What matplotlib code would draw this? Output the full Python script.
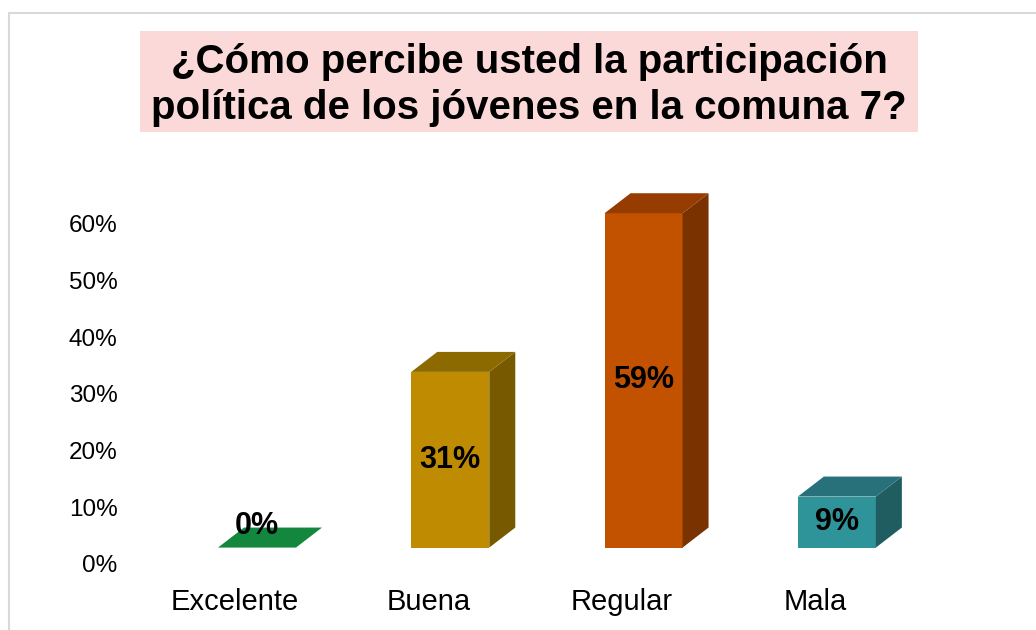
import numpy as np
import matplotlib
matplotlib.use("Agg")
import matplotlib.pyplot as plt
from matplotlib.patches import Polygon, Rectangle

categories = ["Excelente", "Buena", "Regular", "Mala"]
values = [0, 31, 59, 9]
front_colors = ["#12873D", "#BF8B00", "#C25200", "#2E9499"]
top_colors = ["#12873D", "#8C6A00", "#963C00", "#28717A"]
side_colors = ["#0C6A2F", "#775A00", "#7A3300", "#1F5D61"]
yticks = [0, 10, 20, 30, 40, 50, 60]
title = "¿Cómo percibe usted la participación\npolítica de los jóvenes en la comuna 7?"

plt.rcParams["font.family"] = ["Liberation Sans", "DejaVu Sans"]

W, H = 1036, 630
fig = plt.figure(figsize=(W / 100, H / 100), dpi=100)

# outer frame and title box (pixel coords)
fig.patches.append(Rectangle((9 / W, -0.05), 1.1, (H - 13) / H + 0.05, transform=fig.transFigure,
                             fill=False, edgecolor="#D9D9D9", lw=1.5))
fig.patches.append(Rectangle((140 / W, 1 - 132 / H), 778 / W, 101 / H, transform=fig.transFigure,
                             facecolor="#FBD9D8", edgecolor="none"))
fig.text(529 / W, 1 - 85 / H, title, ha="center", va="center", fontsize=29,
         fontweight="bold", linespacing=1.27)

ax = fig.add_axes([130 / W, 66 / H, 870 / W, (440 - 66) / H])
ax.set_xlim(-0.657, 3.844)
ax.set_ylim(0, 66)
for s in ax.spines.values():
    s.set_visible(False)

x = np.arange(len(categories))
base = 2.9
w = 0.4035
dx, dy = 0.1345, 3.53

ax.bar(x, values, width=w, bottom=base, color=front_colors, zorder=2)
for i, v in enumerate(values):
    x0, x1 = i - w / 2, i + w / 2
    top = base + v
    if v > 0:
        ax.add_patch(Polygon([(x1, base), (x1 + dx, base + dy), (x1 + dx, top + dy), (x1, top)],
                             closed=True, facecolor=side_colors[i], edgecolor="none", zorder=2))
    ax.add_patch(Polygon([(x0, top), (x1, top), (x1 + dx, top + dy), (x0 + dx, top + dy)],
                         closed=True, facecolor=top_colors[i], edgecolor="none", zorder=2))
    ax.text(i, base + max(v / 2, 3.8), f"{v}%", ha="center", va="center",
            fontsize=22, fontweight="bold", zorder=3)

ax.set_yticks(yticks, [f"{t}%" for t in yticks], fontsize=17.5)
ax.tick_params(axis="y", length=0, pad=9)
ax.set_xticks(x - 0.114, categories, fontsize=21)
ax.tick_params(axis="x", length=0, pad=17)

fig.savefig("out.png", dpi=100)
